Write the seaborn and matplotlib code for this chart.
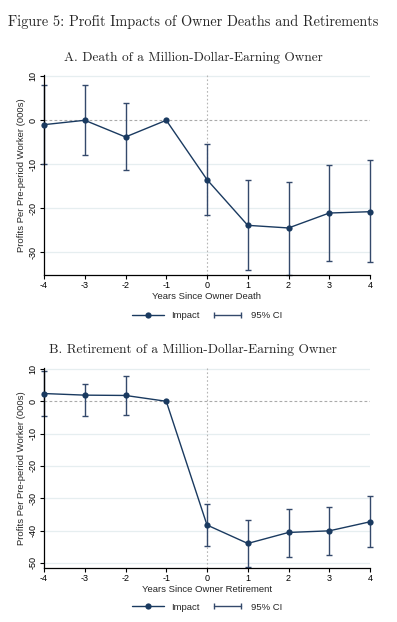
import numpy as np
import pandas as pd
import matplotlib
matplotlib.use("Agg")
import matplotlib.pyplot as plt
import seaborn as sns
from matplotlib.lines import Line2D
from matplotlib.legend_handler import HandlerLine2D

years = [-4, -3, -2, -1, 0, 1, 2, 3, 4]
death_est = [-1.0, 0.0, -3.8, 0.0, -13.5, -23.9, -24.5, -21.1, -20.8]
death_lo = [-10.0, -8.0, -11.4, np.nan, -21.6, -34.1, -35.2, -32.0, -32.3]
death_hi = [8.0, 8.0, 3.9, np.nan, -5.4, -13.5, -14.1, -10.1, -9.1]
ret_est = [2.4, 1.9, 1.8, 0.0, -38.3, -44.0, -40.6, -40.1, -37.3]
ret_lo = [-4.6, -4.6, -4.1, np.nan, -44.9, -51.4, -48.1, -47.6, -45.1]
ret_hi = [9.4, 5.3, 7.7, np.nan, -31.7, -36.8, -33.2, -32.6, -29.4]

sns.set_style("white")
plt.rcParams['font.family'] = ['Liberation Sans', 'DejaVu Sans']

NAVY = "#1a3a60"
CI_C = "#34496b"
GRID = "#e6eef0"

fig = plt.figure(figsize=(3.97, 6.22), dpi=100)
W, H = 397, 622

def px_axes(left, top, right, bottom):
    return fig.add_axes([left / W, 1 - bottom / H, (right - left) / W, (bottom - top) / H])

fig.text(193 / W, 1 - 22 / H, "Figure 5: Profit Impacts of Owner Deaths and Retirements",
         ha="center", va="center", family="cmr10", fontsize=10.3)

panels = [
    dict(title="A. Death of a Million-Dollar-Earning Owner", ty=58, box=(44, 75, 370, 275),
         ylim=(-35.2, 10.3), yticks=[10, 0, -10, -20, -30], est=death_est, lo=death_lo, hi=death_hi,
         xlabel="Years Since Owner Death", legy=316),
    dict(title="B. Retirement of a Million-Dollar-Earning Owner", ty=350, box=(44, 368, 370, 568),
         ylim=(-51.6, 10.3), yticks=[10, 0, -10, -20, -30, -40, -50], est=ret_est, lo=ret_lo, hi=ret_hi,
         xlabel="Years Since Owner Retirement", legy=607),
]

for p in panels:
    ax = px_axes(*p["box"])
    fig.text(193 / W, 1 - p["ty"] / H, p["title"], ha="center", va="center",
             family="cmr10", fontsize=9.6)
    df = pd.DataFrame({"year": years, "est": p["est"], "lo": p["lo"], "hi": p["hi"]})
    for t in p["yticks"]:
        if t != 0:
            ax.axhline(t, color=GRID, lw=0.9, zorder=0)
    ax.axhline(0, color="#aaaaaa", lw=0.8, ls=(0, (2.5, 2)), zorder=1)
    ax.axvline(0, color="#b5b5b5", lw=0.8, ls=(0, (1.5, 2)), zorder=1)
    ci = df.dropna()
    ax.errorbar(ci["year"], ci["est"], yerr=[ci["est"] - ci["lo"], ci["hi"] - ci["est"]],
                fmt="none", ecolor=CI_C, elinewidth=1.0, capsize=2.5, capthick=1.0,
                zorder=2, clip_on=False)
    sns.lineplot(data=df, x="year", y="est", ax=ax, color=NAVY, lw=1.0, marker="o",
                 markersize=4.5, markeredgewidth=0, zorder=3, clip_on=False)
    ax.set_xlim(-4, 4)
    ax.set_ylim(*p["ylim"])
    ax.set_xticks(years)
    ax.set_xticklabels([str(y) for y in years])
    ax.set_yticks(p["yticks"])
    ax.set_yticklabels([str(t) for t in p["yticks"]], rotation=90, va="center")
    for s in ["top", "right"]:
        ax.spines[s].set_visible(False)
    for s in ["left", "bottom"]:
        ax.spines[s].set_color("black")
        ax.spines[s].set_linewidth(0.9)
    ax.tick_params(axis="both", which="both", direction="out", length=3, width=0.8,
                   labelsize=6.5, pad=1.5, colors="black", bottom=True, left=True)
    ax.set_xlabel(p["xlabel"], fontsize=6.8, labelpad=1)
    ax.set_ylabel("Profits Per Pre-period Worker (000s)", fontsize=6.8, labelpad=2)
    ax.grid(False)

    h1 = Line2D([], [], color=NAVY, lw=1.0, marker="o", markersize=4.5, markeredgewidth=0)
    h2 = Line2D([], [], color=CI_C, lw=1.0, marker="|", markersize=4.5, markeredgewidth=1.0)
    fig.legend([h1, h2], ["Impact", "95% CI"], loc="center", bbox_to_anchor=(207 / W, 1 - p["legy"] / H),
               ncol=2, frameon=False, fontsize=6.8, handlelength=3.4, columnspacing=1.2,
               handletextpad=0.8, numpoints=1,
               handler_map={h2: HandlerLine2D(numpoints=2)})

fig.savefig("out.png", dpi=100)
